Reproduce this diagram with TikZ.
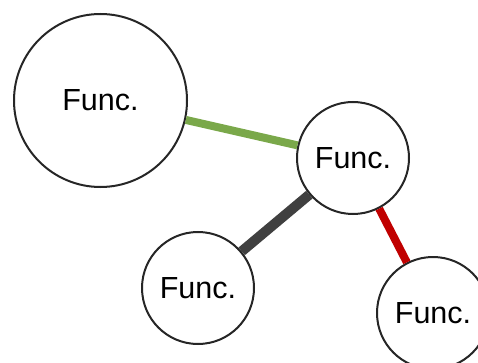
\documentclass[tikz,border=0pt]{standalone}
\usepackage{fontspec}
\setmainfont{Liberation Sans}
\newlength{\hdist}
\newlength{\vdist}
\usepackage{tikz}
\usetikzlibrary{positioning}
\definecolor{linkgreen}{HTML}{7AA84A}
\definecolor{linkred}{HTML}{C00000}
\definecolor{linkgrey}{HTML}{404040}
\definecolor{ringgrey}{HTML}{262626}
\tikzstyle{func}=[draw=ringgrey, circle, fill=white, line width=2pt, inner sep=0pt, minimum size=112pt, font=\fontsize{30.5}{30.5}\selectfont]
\tikzstyle{bigfunc}=[func, minimum size=173pt]
\tikzstyle{link}=[line width=8pt]

\begin{document}
\begin{tikzpicture}[x=1pt, y=-1pt, on grid]
				\useasboundingbox (0,0) rectangle (478,363);
				
				\setlength{\hdist}{252.5pt}
				\setlength{\vdist}{57.5pt}
				
				\node (top) [bigfunc] at (100.5,100.5) {Func.};
				\node (mid) [func, below right=\vdist and \hdist of top] {Func.};
				%
				\node (left) [func, below left=130pt and 155pt of mid] {Func.};
				\node (right) [func, below right=155pt and 80pt of mid] {Func.};
				
				\draw [link, linkgreen] (top) to (mid);
				\draw [link, linkgrey, line width=10pt] (mid) to (left);
				\draw [link, linkred] (mid) to (right);
				\end{tikzpicture}
\end{document}
